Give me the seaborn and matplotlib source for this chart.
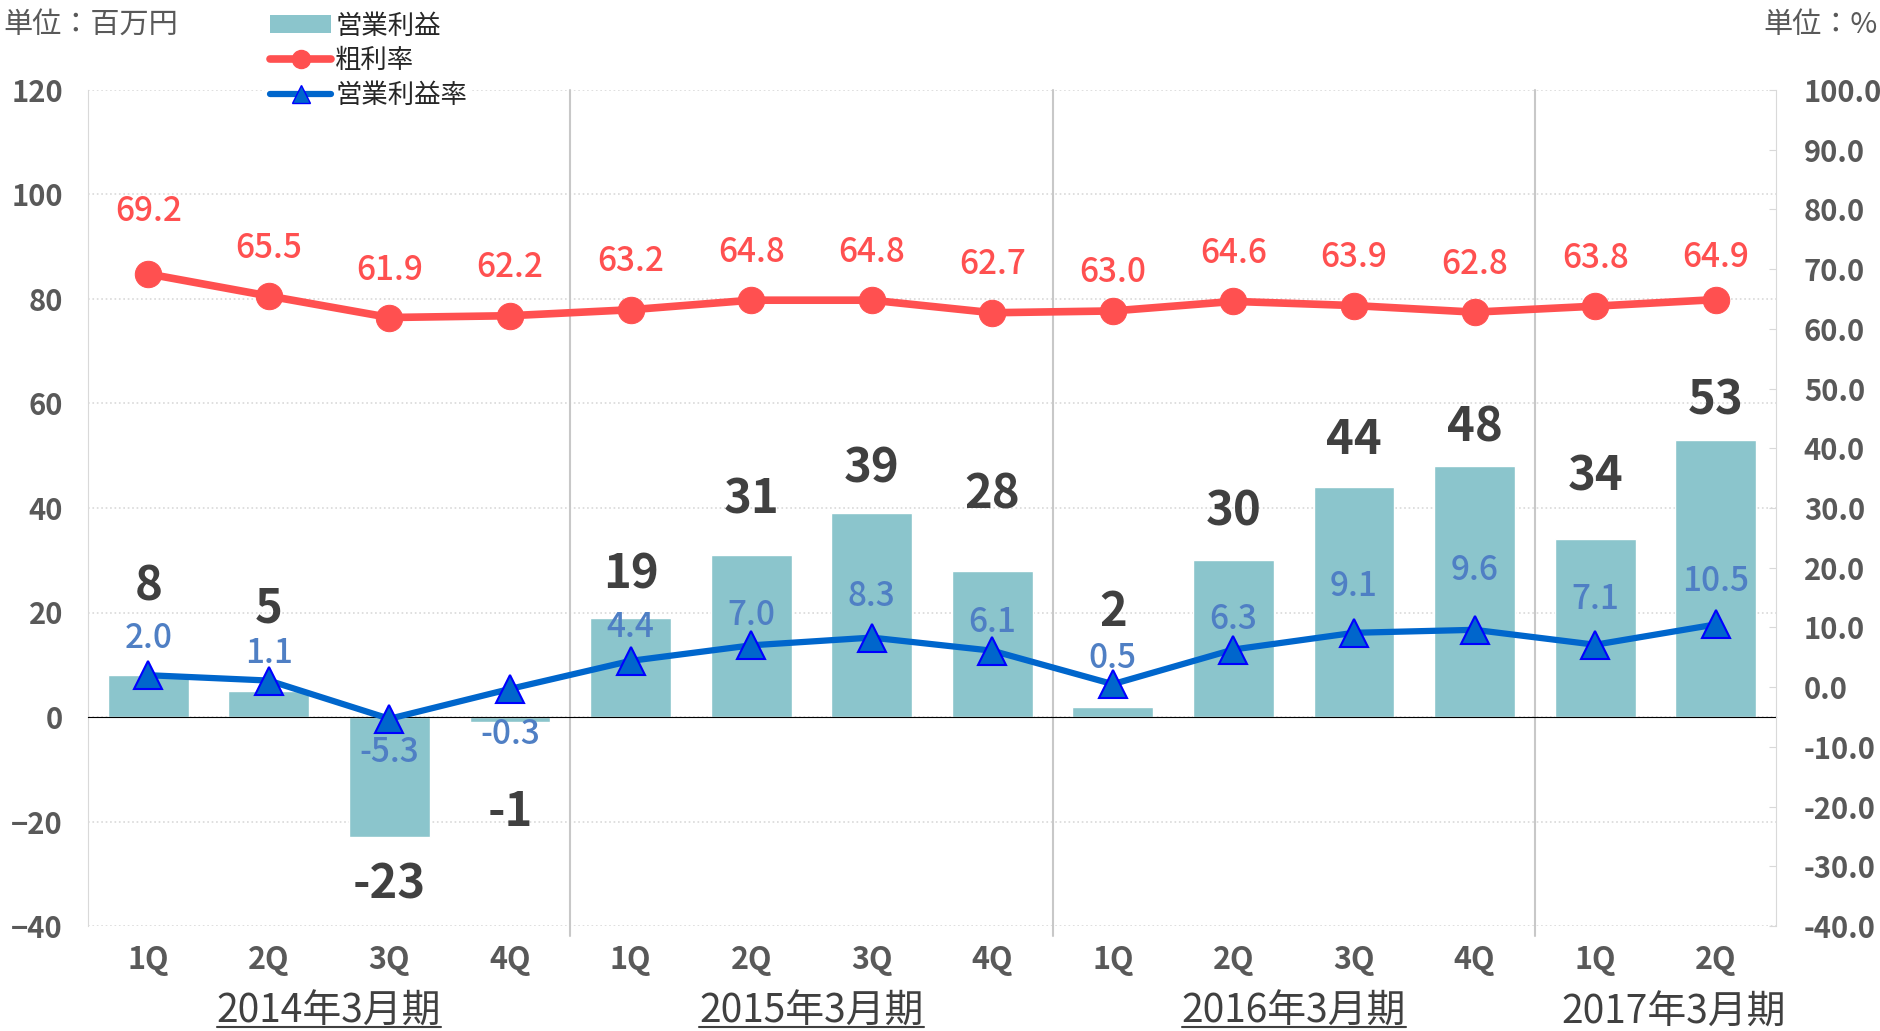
import matplotlib
matplotlib.use('Agg')
import matplotlib.pyplot as plt
import matplotlib.transforms as mtransforms
from matplotlib.lines import Line2D
from matplotlib.patches import Patch
import numpy as np
import pandas as pd
import seaborn as sns

# data
periods = ['2014年3月期', '2015年3月期', '2016年3月期', '2017年3月期']
quarters = ['1Q', '2Q', '3Q', '4Q', '1Q', '2Q', '3Q', '4Q', '1Q', '2Q', '3Q', '4Q', '1Q', '2Q']
period_idx = [0, 0, 0, 0, 1, 1, 1, 1, 2, 2, 2, 2, 3, 3]
op_profit = [8, 5, -23, -1, 19, 31, 39, 28, 2, 30, 44, 48, 34, 53]
gross_margin = [69.2, 65.5, 61.9, 62.2, 63.2, 64.8, 64.8, 62.7, 63.0, 64.6, 63.9, 62.8, 63.8, 64.9]
op_margin = [2.0, 1.1, -5.3, -0.3, 4.4, 7.0, 8.3, 6.1, 0.5, 6.3, 9.1, 9.6, 7.1, 10.5]

# label placement (layout only, in axis units)
profit_label_y = [25.0, 20.7, -32, -18.1, 27.3, 41.7, 47.5, 42.6, 20.0, 39.4, 53.0, 55.5, 46.1, 60.5]
gross_label_y = [79.6, 73.4, 69.8, 70.2, 71.2, 72.8, 72.8, 70.8, 69.4, 72.6, 72.0, 70.8, 71.8, 72.0]
op_label_y = [8.2, 5.6, -11.0, -8.0, 10.0, 12.0, 15.1, 10.8, 4.8, 11.4, 16.9, 19.5, 14.7, 17.7]
period_label_x = [1.5, 5.5, 9.5, 12.65]
period_label_y = [-0.102, -0.102, -0.102, -0.104]

BAR = '#8BC5CC'
RED = '#FF5050'
BLUE = '#0066CC'
BLUE_TXT = '#4F7FC4'
DARK = '#404040'
GRAY = '#595959'
LIGHT = '#D9D9D9'

sns.set_style('white')
plt.rcParams['font.family'] = ['Noto Sans CJK JP', 'DejaVu Sans']

df = pd.DataFrame({
    'pos': np.arange(len(quarters)),
    'profit': op_profit,
    'gross': gross_margin,
    'opm': op_margin,
})

fig = plt.figure(figsize=(18.81, 10.31), dpi=100)
ax = fig.add_axes([88 / 1881, 1 - 926 / 1031, (1776 - 88) / 1881, (926 - 90) / 1031])
ax2 = ax.twinx()

sns.barplot(data=df, x='pos', y='profit', native_scale=True, color=BAR, saturation=1,
            width=0.67, errorbar=None, ax=ax, zorder=2)

sns.lineplot(data=df, x='pos', y='gross', ax=ax2, color=RED, lw=5.5, marker='o',
             markersize=19, markeredgecolor=RED, zorder=3)
sns.lineplot(data=df, x='pos', y='opm', ax=ax2, color=BLUE, lw=4.5, marker='^',
             markersize=20, markerfacecolor=BLUE, markeredgecolor='#0000FF',
             markeredgewidth=1.5, zorder=4)

ax.set_xlim(-0.5, len(quarters) - 0.5)
ax.set_ylim(-40, 120)
ax2.set_ylim(-40, 100)
ax.set_yticks(np.arange(-40, 121, 20))
ax2.set_yticks(np.arange(-40, 101, 10))
ax2.set_yticklabels([f'{v:.1f}' for v in np.arange(-40, 101, 10)])
for a in (ax, ax2):
    a.set_xlabel('')
    a.set_ylabel('')

# x axis: zero line with boundary ticks
ax.set_xticks(np.arange(len(quarters)))
ax.set_xticklabels([])
ax.set_xticks(np.arange(-0.5, len(quarters), 1), minor=True)
ax.tick_params(axis='x', which='major', length=0)
ax.tick_params(axis='x', which='minor', direction='inout', length=12, width=1, color='black')
ax.spines['bottom'].set_position(('data', 0))
ax.spines['bottom'].set_color('black')
ax.spines['top'].set_visible(False)
ax.spines['right'].set_visible(False)
ax.spines['left'].set_color(LIGHT)
for s in ('top', 'bottom', 'left'):
    ax2.spines[s].set_visible(False)
ax2.spines['right'].set_color(LIGHT)

ax.tick_params(axis='y', length=0, pad=18, labelsize=21, labelcolor=GRAY)
ax2.tick_params(axis='y', direction='in', length=5, color=LIGHT, pad=20, labelsize=21, labelcolor=GRAY)
for lab in ax.get_yticklabels() + ax2.get_yticklabels():
    lab.set_fontweight('bold')

ax.yaxis.grid(True, linestyle=':', color=LIGHT, lw=1.2)
ax.set_axisbelow(True)

# period separators
for xs in (3.5, 7.5, 11.5):
    ax.axvline(xs, ymin=-0.012, ymax=1, color='#C8C8C8', lw=1.5, clip_on=False, zorder=1)

# value labels
for i in range(len(quarters)):
    ax.text(i, profit_label_y[i], f'{op_profit[i]}', ha='center', va='center',
            fontsize=34, fontweight='bold', color=DARK, zorder=6)
    ax2.text(i, gross_label_y[i], f'{gross_margin[i]:.1f}', ha='center', va='center',
             fontsize=24, fontweight='medium', color=RED, zorder=6)
    ax2.text(i, op_label_y[i], f'{op_margin[i]:.1f}', ha='center', va='center',
             fontsize=24, fontweight='medium', color=BLUE_TXT, zorder=6)

# category labels below the plot
trans = mtransforms.blended_transform_factory(ax.transData, ax.transAxes)
for i, q in enumerate(quarters):
    ax.text(i, -0.041, q, transform=trans, ha='center', va='center',
            fontsize=22, fontweight='bold', color=GRAY)
period_texts = []
for k, p in enumerate(periods):
    t = ax.text(period_label_x[k], period_label_y[k], p, transform=trans, ha='center',
                va='center', fontsize=28, color=DARK)
    period_texts.append(t)

# units
fig.text(0.002, 0.976, '単位：百万円', ha='left', va='center', fontsize=21, color=GRAY)
fig.text(0.998, 0.976, '単位：%', ha='right', va='center', fontsize=21, color=GRAY)

# legend
handles = [
    Patch(facecolor=BAR, edgecolor='none'),
    Line2D([], [], color=RED, lw=5.5, marker='o', markersize=13, markeredgecolor=RED),
    Line2D([], [], color=BLUE, lw=4.5, marker='^', markersize=13, markerfacecolor=BLUE,
           markeredgecolor='#0000FF'),
]
leg = fig.legend(handles, ['営業利益', '粗利率', '営業利益率'], loc='upper left',
                 bbox_to_anchor=(0.141, 0.993), fontsize=19, frameon=True, framealpha=1,
                 edgecolor='none', facecolor='white', handlelength=2.3, handleheight=0.7,
                 handletextpad=0.15, labelspacing=0.3, borderpad=0.2, borderaxespad=0)
leg.set_zorder(10)

# underline the first three period labels
fig.canvas.draw()
renderer = fig.canvas.get_renderer()
W, H = fig.bbox.width, fig.bbox.height
for t in period_texts[:3]:
    bb = t.get_window_extent(renderer)
    y = max(bb.y0 + 2, 4)
    fig.add_artist(Line2D([bb.x0 / W, bb.x1 / W], [y / H, y / H], transform=fig.transFigure,
                          color=DARK, lw=1.5))

fig.savefig('out.png', dpi=100)
